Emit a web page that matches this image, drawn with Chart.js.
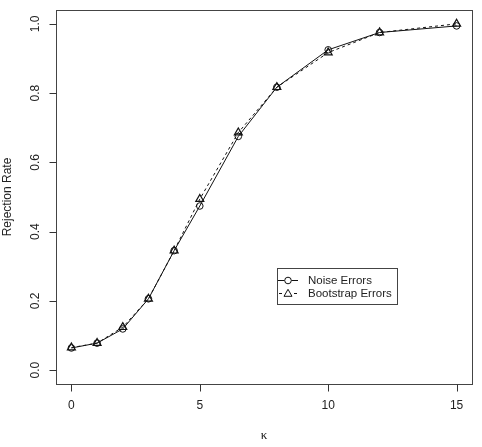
<!DOCTYPE html>
<html>
<head>
<meta charset="utf-8">
<script src="https://cdn.jsdelivr.net/npm/chart.js@4"></script>
<style>
  html, body { margin: 0; padding: 0; background: #fff; }
  #wrap { width: 482px; height: 447px; }
</style>
</head>
<body>
<div id="wrap"><canvas id="c" width="482" height="447"></canvas></div>
<script>
const kappa = [0, 1, 2, 3, 4, 5, 6.5, 8, 10, 12, 15];
const noiseErrors = [0.064, 0.078, 0.119, 0.206, 0.345, 0.474, 0.675, 0.817, 0.925, 0.975, 0.994];
const bootstrapErrors = [0.065, 0.078, 0.124, 0.206, 0.345, 0.494, 0.686, 0.817, 0.917, 0.975, 1.0];
const xTicks = [0, 5, 10, 15];
const yTicks = [0.0, 0.2, 0.4, 0.6, 0.8, 1.0];
const yTickLabels = ['0.0', '0.2', '0.4', '0.6', '0.8', '1.0'];
const xTitle = 'κ';
const yTitle = 'Rejection Rate';
const seriesNames = ['Noise Errors', 'Bootstrap Errors'];

const FONT = '"Liberation Sans", Arial, Helvetica, sans-serif';
const INK = '#222';

const rPlot = {
  id: 'rPlot',
  afterDraw(chart) {
    const ctx = chart.ctx;
    const a = chart.chartArea;
    const xs = chart.scales.x, ys = chart.scales.y;
    ctx.save();
    // box
    ctx.strokeStyle = '#444';
    ctx.lineWidth = 1;
    ctx.strokeRect(Math.round(a.left) + 0.5, Math.round(a.top) + 0.5,
                   Math.round(a.right - a.left), Math.round(a.bottom - a.top));
    ctx.strokeStyle = '#333';
    ctx.fillStyle = INK;
    ctx.font = '12px ' + FONT;
    // x axis ticks
    const xb = Math.round(a.bottom) + 0.5;
    ctx.beginPath();
    xTicks.forEach(v => {
      const px = Math.round(xs.getPixelForValue(v)) + 0.5;
      ctx.moveTo(px, xb); ctx.lineTo(px, xb + 7);
    });
    ctx.stroke();
    ctx.textAlign = 'center';
    ctx.textBaseline = 'middle';
    xTicks.forEach(v => {
      ctx.fillText(String(v), xs.getPixelForValue(v), 406);
    });
    // y axis ticks
    const yl = Math.round(a.left) + 0.5;
    ctx.beginPath();
    yTicks.forEach(v => {
      const py = Math.round(ys.getPixelForValue(v)) + 0.5;
      ctx.moveTo(yl, py); ctx.lineTo(yl - 7, py);
    });
    ctx.stroke();
    yTicks.forEach((v, i) => {
      ctx.save();
      ctx.translate(35.5, ys.getPixelForValue(v));
      ctx.rotate(-Math.PI / 2);
      ctx.fillText(yTickLabels[i], 0, 0);
      ctx.restore();
    });
    // titles
    ctx.font = '13px "Liberation Serif", "DejaVu Serif", serif';
    ctx.fillText(xTitle, (a.left + a.right) / 2, 436);
    ctx.font = '12px ' + FONT;
    ctx.save();
    ctx.translate(8, (a.top + a.bottom) / 2);
    ctx.rotate(-Math.PI / 2);
    ctx.fillText(yTitle, 0, 0);
    ctx.restore();
    // legend
    const lx = 277.5, ly = 268.5, lw = 120, lh = 36;
    ctx.fillStyle = '#fff';
    ctx.fillRect(lx, ly, lw, lh);
    ctx.strokeStyle = '#444';
    ctx.strokeRect(lx, ly, lw, lh);
    ctx.strokeStyle = '#111';
    ctx.fillStyle = INK;
    const rows = [280.5, 293.5];
    // row 1: solid line + circle
    ctx.beginPath();
    ctx.moveTo(278, rows[0]); ctx.lineTo(284.5, rows[0]);
    ctx.moveTo(291.5, rows[0]); ctx.lineTo(298, rows[0]);
    ctx.stroke();
    ctx.beginPath();
    ctx.arc(288, rows[0], 3.3, 0, Math.PI * 2);
    ctx.stroke();
    // row 2: dashed + triangle
    ctx.beginPath();
    ctx.moveTo(279, rows[1]); ctx.lineTo(282, rows[1]);
    ctx.moveTo(294, rows[1]); ctx.lineTo(297, rows[1]);
    ctx.stroke();
    ctx.beginPath();
    ctx.moveTo(288, rows[1] - 4.2);
    ctx.lineTo(292, rows[1] + 2.8);
    ctx.lineTo(284, rows[1] + 2.8);
    ctx.closePath();
    ctx.stroke();
    ctx.textAlign = 'left';
    ctx.font = '11.5px ' + FONT;
    ctx.fillText(seriesNames[0], 308, rows[0]);
    ctx.fillText(seriesNames[1], 308, rows[1]);
    ctx.restore();
  }
};

new Chart(document.getElementById('c'), {
  type: 'line',
  data: {
    datasets: [
      {
        label: seriesNames[0],
        data: kappa.map((k, i) => ({ x: k, y: noiseErrors[i] })),
        borderColor: '#111',
        borderWidth: 1,
        pointStyle: 'circle',
        pointRadius: 3.3,
        pointBorderWidth: 1,
        pointBorderColor: '#111',
        pointBackgroundColor: 'rgba(0,0,0,0)',
        tension: 0,
        fill: false
      },
      {
        label: seriesNames[1],
        data: kappa.map((k, i) => ({ x: k, y: bootstrapErrors[i] })),
        borderColor: '#111',
        borderWidth: 1,
        borderDash: [3, 3],
        pointStyle: 'triangle',
        pointRadius: 4.6,
        pointBorderWidth: 1.2,
        pointBorderColor: '#111',
        pointBackgroundColor: 'rgba(0,0,0,0)',
        tension: 0,
        fill: false
      }
    ]
  },
  options: {
    responsive: false,
    animation: false,
    devicePixelRatio: 1,
    layout: { padding: { left: 56, top: 10, right: 10, bottom: 63 } },
    plugins: { legend: { display: false }, tooltip: { enabled: false } },
    scales: {
      x: { type: 'linear', min: -0.6, max: 15.6, display: false },
      y: { type: 'linear', min: -0.04, max: 1.04, display: false }
    }
  },
  plugins: [rPlot]
});
</script>
</body>
</html>
